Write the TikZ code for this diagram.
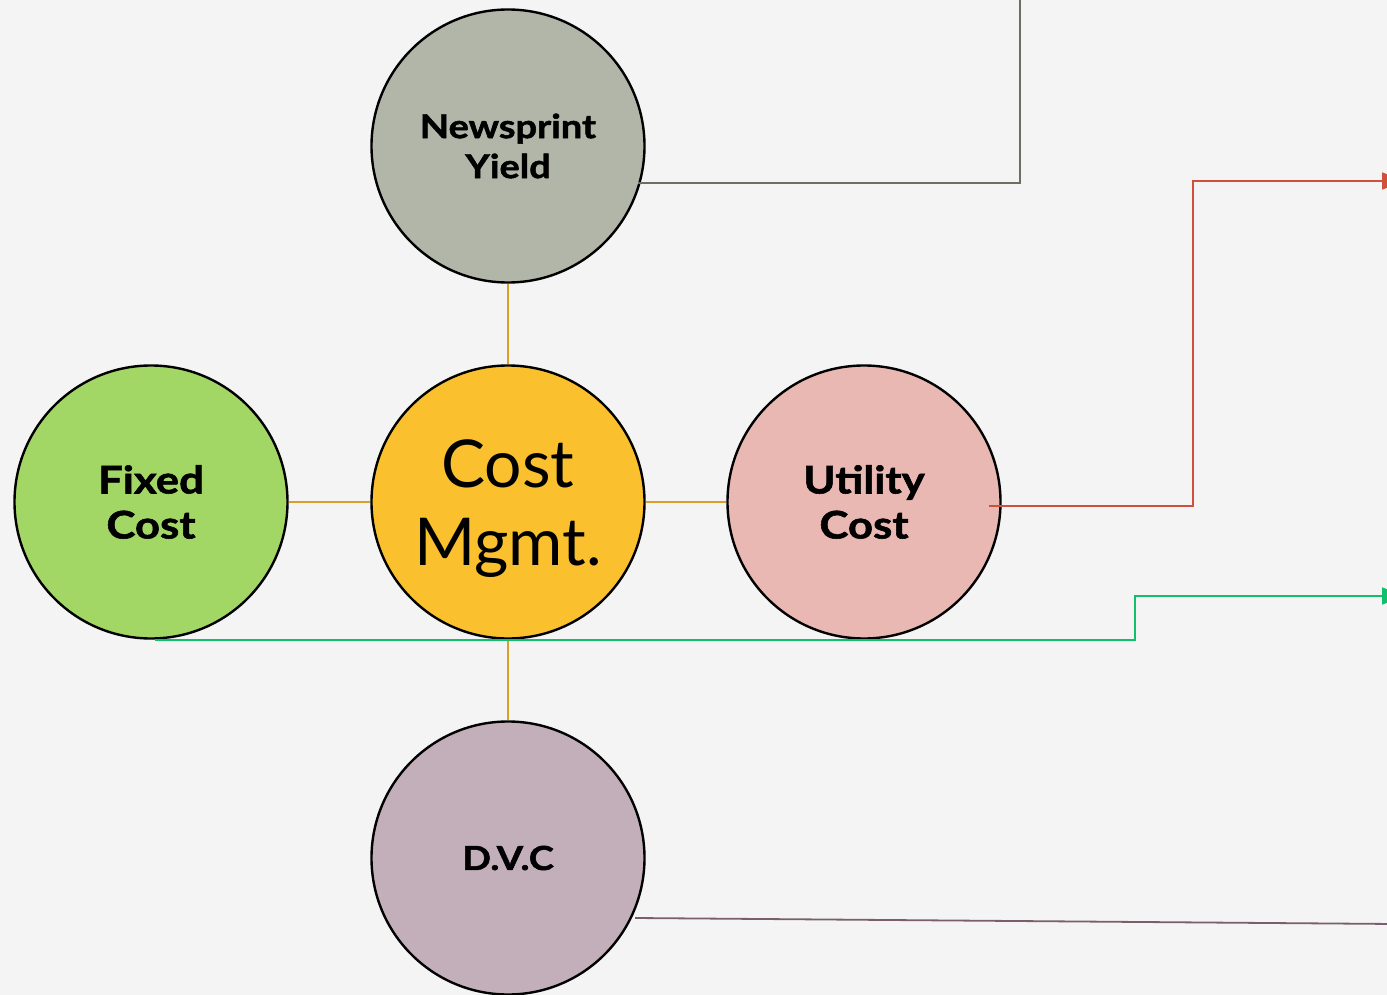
\documentclass[tikz,border=0pt]{standalone}
\usepackage{fontspec}
\setmainfont{Lato}
\newfontfamily\heavy{Lato}[BoldFeatures={FakeBold=1.5,FakeStretch=1.15}]
\usetikzlibrary{arrows.meta}
\definecolor{bg}{HTML}{F4F4F4}
\definecolor{hub}{HTML}{FBC02D}
\definecolor{sage}{HTML}{B2B6A8}
\definecolor{leaf}{HTML}{A2D665}
\definecolor{blush}{HTML}{E9B8B3}
\definecolor{mauve}{HTML}{C3AFBA}
\definecolor{spoke}{HTML}{D9A028}
\definecolor{olive}{HTML}{6B6F60}
\definecolor{brick}{HTML}{D0503E}
\definecolor{mint}{HTML}{12C06C}
\definecolor{plum}{HTML}{7A5E6E}
\tikzset{
  ball/.style={circle, draw=black, line width=2.4pt, minimum size=273pt, inner sep=0pt, align=center},
  label/.style={align=center, font=\heavy\bfseries\fontsize{33}{40}\selectfont},
  biglabel/.style={align=center, font=\heavy\bfseries\fontsize{38}{45}\selectfont},
  spokeline/.style={draw=spoke, line width=2pt},
  trace/.style={line width=1.8pt},
  tip/.style={-{Triangle[length=22pt,width=17pt]}}
}
\begin{document}
\begin{tikzpicture}[x=1pt,y=-1pt]
  \fill[bg] (0,0) rectangle (1387,995);
  \useasboundingbox (0,0) rectangle (1387,995);
  \clip (0,0) rectangle (1387,995);

  % hub and satellites
  \node[ball, fill=hub] (hub) at (508,502) {};
  \node[ball, fill=sage] (news) at (508,146) {};
  \node[ball, fill=leaf] (fixed) at (151,502) {};
  \node[ball, fill=blush] (util) at (864,502) {};
  \node[ball, fill=mauve] (dvc) at (508,858) {};

  % spokes from the hub to the four satellites
  \draw[spokeline] (news.south) -- (hub.north);
  \draw[spokeline] (fixed.east) -- (hub.west);
  \draw[spokeline] (hub.east) -- (util.west);
  \draw[spokeline] (hub.south) -- (dvc.north);

  % outgoing traces, running off the right and top edges
  \coordinate (nEnd) at (1020,-5);
  \draw[trace, olive] (638,183) -| (nEnd);

  \coordinate (uEnd) at (1404,181);
  \draw[trace, brick, tip] (989,506) -- (1193,506) |- (uEnd);

  \coordinate (fEnd) at (1404,596);
  \draw[trace, mint, tip] (155,640) -- (1135,640) |- (fEnd);

  \coordinate (dEnd) at (1395,924);
  \draw[trace, plum] (635,918) -- (dEnd);

  % labels
  \node[label] at (508,146) {Newsprint\\Yield};
  \node[biglabel] at (151,502) {Fixed\\Cost};
  \node[biglabel] at (864,502) {Utility\\Cost};
  \node[label] at (508,858) {D.V.C};
  \node[align=center, font=\fontsize{66}{78}\selectfont] at (508,509) {Cost\\Mgmt.};
\end{tikzpicture}
\end{document}
